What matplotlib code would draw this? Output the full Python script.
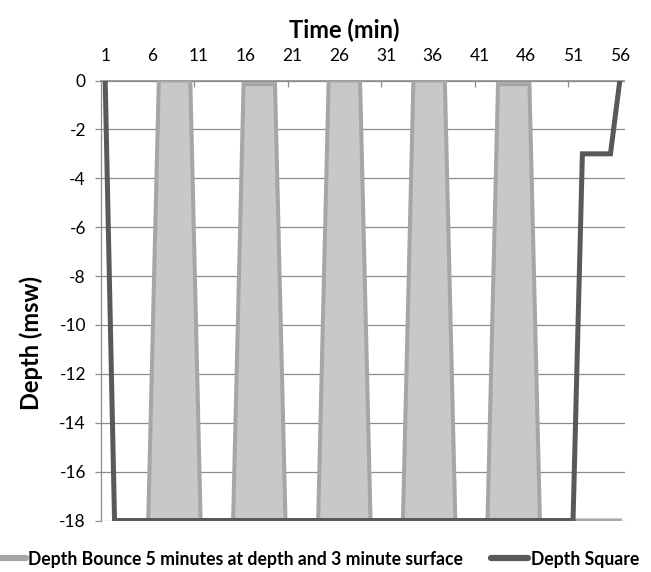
import matplotlib
matplotlib.use("Agg")
import matplotlib.pyplot as plt
from matplotlib.lines import Line2D
import numpy as np

# ---- data ----
square_time = list(range(1, 57))
square_depth = [0] + [-18] * 50 + [-3] * 4 + [0]

bounce_time = [2, 5.6, 6.73, 10.1, 11.2, 14.67, 15.79, 19.15, 20.27, 23.76, 24.88,
               28.24, 29.36, 32.82, 33.94, 37.3, 38.42, 41.86, 42.98, 46.34, 47.46, 56]
bounce_depth = [-18, -18, 0, 0, -18, -18, -0.15, -0.15, -18, -18, 0,
                0, -18, -18, 0, 0, -18, -18, -0.15, -0.15, -18, -18]

x_labels = [1, 6, 11, 16, 21, 26, 31, 36, 41, 46, 51, 56]
y_ticks = list(range(0, -19, -2))

bounce_label = "Depth Bounce 5 minutes at depth and 3 minute surface"
square_label = "Depth Square"

FONT = "Lato"
plt.rcParams['font.family'] = [FONT, 'DejaVu Sans']

W, H = 651, 572
fig = plt.figure(figsize=(W / 100, H / 100), dpi=100)
L, R, T, B = 100.5, 624.5, 80.5, 520.5
ax = fig.add_axes([L / W, 1 - B / H, (R - L) / W, (B - T) / H])

grid_c = "#8c8c8c"
light_line = "#a6a6a6"
light_fill = "#c8c8c8"
dark_line = "#595959"

# series
ax.fill_between(bounce_time, bounce_depth, -18, color=light_fill, lw=0, zorder=2)
ax.plot(bounce_time, bounce_depth, color=light_line, lw=2.9, zorder=3,
        solid_joinstyle='miter')
ax.plot(square_time, square_depth, color=dark_line, lw=3.6, zorder=4,
        solid_joinstyle='miter')

ax.set_xlim(0.5, 56.5)
ax.set_ylim(-18, 0)

# y axis
ax.set_yticks(y_ticks)
ax.set_yticklabels([str(v) for v in y_ticks])
ax.yaxis.grid(True, color=grid_c, lw=0.9, zorder=0)
ax.tick_params(axis='y', direction='out', length=4.5, width=0.9, color=grid_c,
               pad=6, labelsize=12.5, labelcolor='black')

# x axis on top
ax.xaxis.tick_top()
ax.xaxis.set_label_position('top')
ax.set_xticks(x_labels)
ax.set_xticklabels([str(v) for v in x_labels])
ax.set_xticks(np.arange(10.5, 56, 10), minor=True)
ax.tick_params(axis='x', which='major', length=0, pad=12, labelsize=12.5, labelcolor='black')
ax.tick_params(axis='x', which='minor', direction='in', length=4, width=0.9, color=grid_c,
               top=True, bottom=False)

for s in ['right', 'bottom']:
    ax.spines[s].set_visible(False)
ax.spines['top'].set_color(grid_c)
ax.spines['top'].set_linewidth(1.2)
ax.spines['left'].set_color(grid_c)
ax.spines['left'].set_linewidth(0.9)
ax.set_axisbelow(True)

ax.set_xlabel("Time (min)", fontsize=17, fontweight='bold')
ax.xaxis.set_label_coords((344 - L) / (R - L), (B - 38) / (B - T))
ax.set_ylabel("Depth (msw)", fontsize=17, fontweight='bold')
ax.yaxis.set_label_coords((43 - L) / (R - L), (B - 343) / (B - T))

handles = [Line2D([], [], color=light_line, lw=4.5, solid_capstyle='round'),
           Line2D([], [], color=dark_line, lw=4.5, solid_capstyle='round')]
fig.legend(handles, [bounce_label, square_label], loc='center',
           bbox_to_anchor=(314 / W, 1 - 559 / H), ncol=2, frameon=False,
           prop={'family': FONT, 'weight': 'bold', 'size': 12.7},
           handlelength=2.1, handletextpad=0.15, columnspacing=1.6,
           borderpad=0, borderaxespad=0)

fig.savefig("out.png", dpi=100)
